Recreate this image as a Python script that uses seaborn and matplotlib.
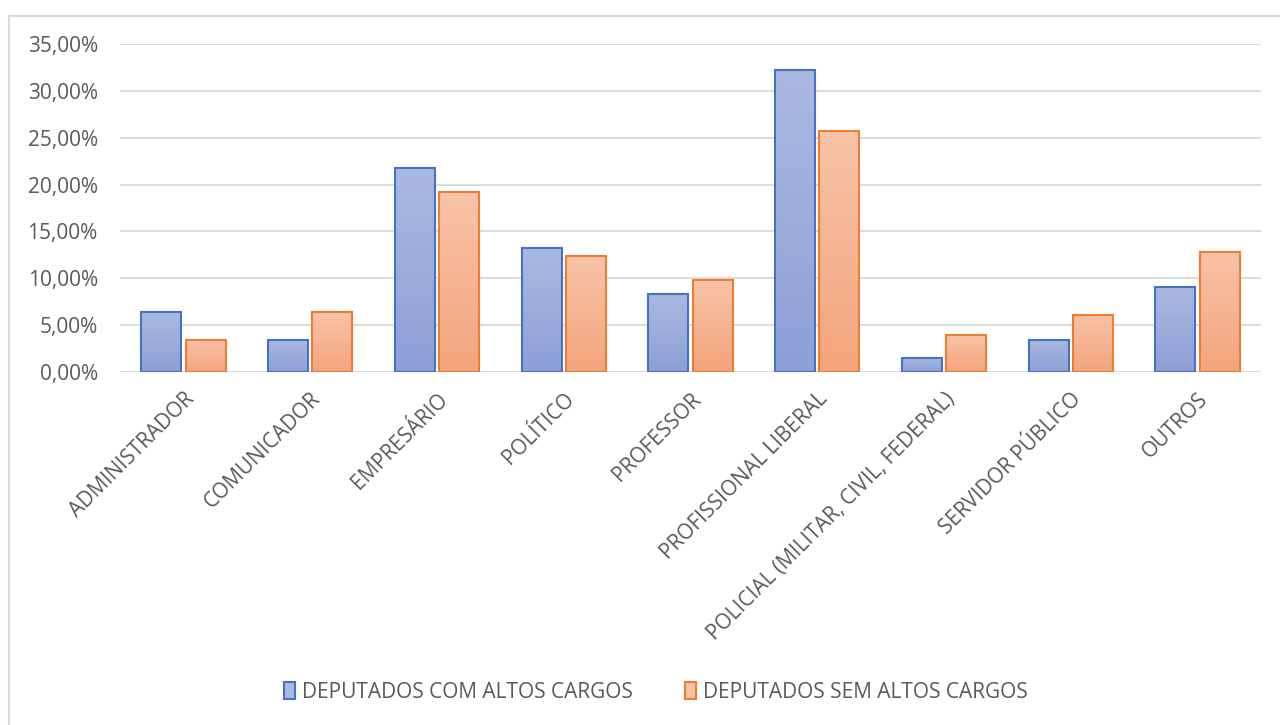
import matplotlib
matplotlib.use('Agg')
import numpy as np
import pandas as pd
import matplotlib.pyplot as plt
import seaborn as sns
from matplotlib.colors import LinearSegmentedColormap
from matplotlib.patches import Patch, Rectangle
from matplotlib.ticker import FuncFormatter, MultipleLocator

# data (percent)
categories = ["ADMINISTRADOR", "COMUNICADOR", "EMPRESÁRIO", "POLÍTICO", "PROFESSOR",
              "PROFISSIONAL LIBERAL", "POLICIAL (MILITAR, CIVIL, FEDERAL)",
              "SERVIDOR PÚBLICO", "OUTROS"]
com_altos = [6.35, 3.45, 21.8, 13.25, 8.35, 32.25, 1.45, 3.45, 9.1]
sem_altos = [3.45, 6.35, 19.2, 12.4, 9.85, 25.75, 3.9, 6.1, 12.85]
series = ["DEPUTADOS COM ALTOS CARGOS", "DEPUTADOS SEM ALTOS CARGOS"]

df = pd.DataFrame({
    "categoria": categories * 2,
    "valor": com_altos + sem_altos,
    "serie": [series[0]] * len(categories) + [series[1]] * len(categories),
})

edge_colors = ["#4472c4", "#ed7d31"]
grad_colors = [("#8c9fd6", "#abb9e1"), ("#f4a47c", "#f8c3a8")]  # (bottom, top)
text_color = "#595959"

sns.set_style("white")
plt.rcParams['font.family'] = ['Open Sans', 'DejaVu Sans']

fig = plt.figure(figsize=(12.8, 7.25), dpi=100)
ax = fig.add_axes([120 / 1280, 1 - 372 / 725, 1141 / 1280, 328 / 725])

sns.barplot(data=df, x="categoria", y="valor", hue="serie", palette=[c[1] for c in grad_colors],
            width=0.7, gap=0.1, ax=ax, legend=False, zorder=3)

# gradient fill + coloured edge for every bar
grad = np.linspace(0, 1, 256).reshape(-1, 1)
for container, edge, (c_bot, c_top) in zip(ax.containers, edge_colors, grad_colors):
    cmap = LinearSegmentedColormap.from_list("g", [c_bot, c_top])
    for bar in container:
        x0, y0 = bar.get_x(), bar.get_y()
        w, h = bar.get_width(), bar.get_height()
        bar.set_facecolor("none")
        bar.set_edgecolor(edge)
        bar.set_linewidth(1.5)
        bar.set_zorder(4)
        img = ax.imshow(grad, cmap=cmap, extent=[x0, x0 + w, y0, y0 + h], origin="lower",
                        aspect="auto", zorder=3)
        img.set_clip_path(bar)

ax.set_xlim(-0.5, len(categories) - 0.5)
ax.set_ylim(0, 35)
ax.yaxis.set_major_locator(MultipleLocator(5))
ax.yaxis.set_major_formatter(FuncFormatter(lambda v, p: f"{v:.2f}%".replace(".", ",")))
ax.grid(axis="y", color="#d9d9d9", linewidth=1.3, zorder=0)
ax.set_axisbelow(True)
for s in ax.spines.values():
    s.set_visible(False)

ax.set_xlabel("")
ax.set_ylabel("")
ax.set_xticks(range(len(categories)))
ax.set_xticklabels(categories, rotation=45, ha="right", rotation_mode="anchor")
ax.tick_params(axis="x", length=0, pad=12, labelsize=15, labelcolor=text_color)
ax.tick_params(axis="y", length=0, pad=16, labelsize=15, labelcolor=text_color)

# legend
handles = [Patch(facecolor=c[1], edgecolor=e, linewidth=1.5) for c, e in zip(grad_colors, edge_colors)]
fig.legend(handles, series, loc="center", bbox_to_anchor=(656 / 1280, 1 - 692 / 725), ncol=2,
           frameon=False, fontsize=15, labelcolor=text_color, handlelength=0.5, handleheight=0.9,
           handletextpad=0.35, columnspacing=2.5)

# chart border
fig.patches.append(Rectangle((9 / 1280, -0.1), 1.2, 1 - 16 / 725 + 0.1, transform=fig.transFigure,
                             fill=False, edgecolor="#d9d9d9", linewidth=1.5))

plt.savefig("out.png", dpi=100)
plt.close()
